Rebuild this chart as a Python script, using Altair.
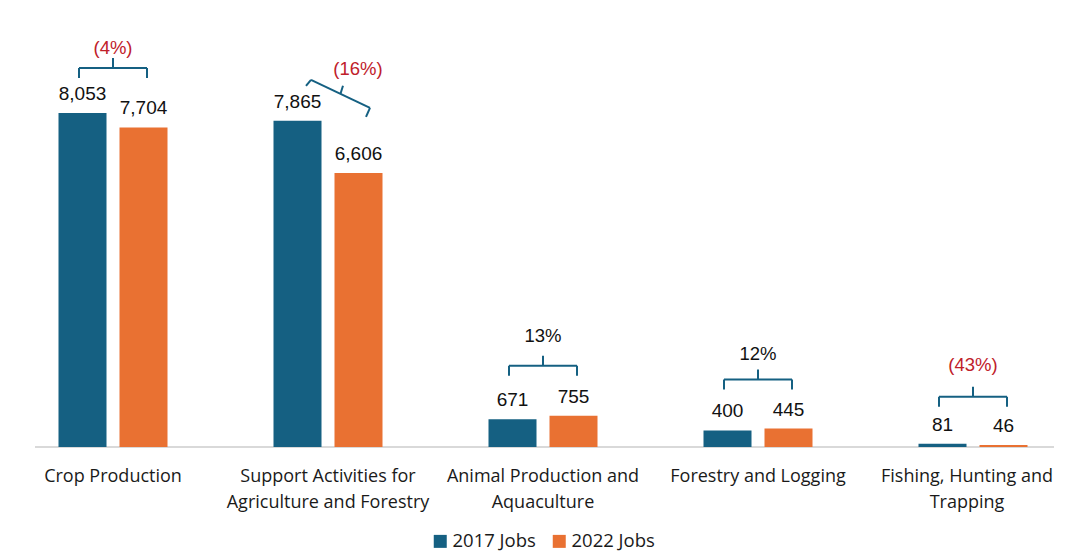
import altair as alt
import pandas as pd

# ---- data ----
categories = ["Crop Production", "Support Activities for Agriculture and Forestry",
              "Animal Production and Aquaculture", "Forestry and Logging",
              "Fishing, Hunting and Trapping"]
cat_labels = ["Crop Production", "Support Activities for\nAgriculture and Forestry",
              "Animal Production and\nAquaculture", "Forestry and Logging",
              "Fishing, Hunting and\nTrapping"]
jobs_2017 = [8053, 7865, 671, 400, 81]
jobs_2022 = [7704, 6606, 755, 445, 46]
pct_labels = ["(4%)", "(16%)", "13%", "12%", "(43%)"]
series = ["2017 Jobs", "2022 Jobs"]

# ---- layout / style ----
BLUE = "#156082"
ORANGE = "#E97132"
RED = "#C0202A"
W, H = 1046, 439
SX = 215.0                  # px per category
X0 = -105.0 / SX
X1 = X0 + W / SX
YMAX = 10585.0
SY = H / YMAX               # px per job
OFF = 30.5 / SX
HW = 24.0 / SX
# pixel offsets of the annotations
LABEL_DY = [-65, -52, -80, -75, -79]
BRACKET_DY = [-35, 0, -40, -39, -37]
CAT_DX = [0, 0, 0, 0, -6]

def px_x(p):
    return p / SX

def px_y(p):
    return p / SY

# bars
bar_rows = []
for i, cat in enumerate(categories):
    for s, vals, o in [(series[0], jobs_2017, -OFF), (series[1], jobs_2022, OFF)]:
        bar_rows.append({"idx": i, "series": s, "value": vals[i],
                         "xc": i + o, "x": i + o - HW, "x2": i + o + HW})
bars_df = pd.DataFrame(bar_rows)

# brackets (annotation segments built from the values)
seg_rows = []
pct_rows = []
for i in range(len(categories)):
    top = max(jobs_2017[i], jobs_2022[i])
    neg = pct_labels[i].startswith("(")
    if i == 1:
        pts = [((-22, -35), (-17, -41)), ((-17, -41), (42, -13)),
               ((42, -13), (38, -4)), ((12.5, -27), (15, -35))]
        tx = 30
    else:
        b = BRACKET_DY[i]
        pts = [((-34, b), (-34, b - 10)), ((-34, b - 10), (34, b - 10)),
               ((34, b - 10), (34, b)), ((0, b - 10), (0, b - 20))]
        tx = 0
    for (ax, ay), (bx, by) in pts:
        seg_rows.append({"x": i + px_x(ax), "x2": i + px_x(bx),
                         "y": top - px_y(ay), "y2": top - px_y(by)})
    pct_rows.append({"x": i + px_x(tx), "y": top - px_y(LABEL_DY[i]),
                     "label": pct_labels[i], "neg": "neg" if neg else "pos"})
seg_df = pd.DataFrame(seg_rows)
pct_df = pd.DataFrame(pct_rows)

cat_df = pd.DataFrame({"x": [i + px_x(CAT_DX[i]) for i in range(len(categories))],
                       "label": cat_labels, "y": [0] * len(categories)})
base_df = pd.DataFrame({"x": [X0 + px_x(27)], "x2": [X1], "y": [0]})

xs = alt.Scale(domain=[X0, X1], nice=False, zero=False)
ys = alt.Scale(domain=[0, YMAX], nice=False)

baseline = alt.Chart(base_df).mark_rule(color="#D9D9D9", strokeWidth=2).encode(
    x=alt.X("x:Q", scale=xs, axis=None), x2="x2:Q",
    y=alt.Y("y:Q", scale=ys, axis=None))

bars = alt.Chart(bars_df).mark_bar().encode(
    x=alt.X("x:Q", scale=xs, axis=None), x2="x2:Q",
    y=alt.Y("value:Q", scale=ys, axis=None), y2=alt.datum(0),
    color=alt.Color("series:N",
                    scale=alt.Scale(domain=series, range=[BLUE, ORANGE]),
                    legend=alt.Legend(title=None, orient="none", direction="horizontal",
                                      legendX=423, legendY=524, symbolType="square",
                                      symbolSize=169, symbolStrokeWidth=0,
                                      labelFontSize=18.5, labelFont="Open Sans",
                                      labelColor="#1a1a1a", columnPadding=14,
                                      labelOffset=3)))

values = alt.Chart(bars_df).mark_text(font="Liberation Sans", fontSize=19, baseline="alphabetic",
                                      dy=-13, color="#111").encode(
    x=alt.X("xc:Q", scale=xs, axis=None),
    y=alt.Y("value:Q", scale=ys, axis=None),
    text=alt.Text("value:Q", format=","))

brackets = alt.Chart(seg_df).mark_rule(color=BLUE, strokeWidth=2).encode(
    x=alt.X("x:Q", scale=xs, axis=None), x2="x2:Q",
    y=alt.Y("y:Q", scale=ys, axis=None), y2="y2:Q")

pcts = alt.Chart(pct_df).mark_text(font="Liberation Sans", fontSize=18.5, baseline="middle").encode(
    x=alt.X("x:Q", scale=xs, axis=None),
    y=alt.Y("y:Q", scale=ys, axis=None),
    text="label:N",
    color=alt.Color("neg:N", scale=alt.Scale(domain=["neg", "pos"], range=[RED, "#111"]), legend=None))

cats = alt.Chart(cat_df).mark_text(font="Open Sans", fontSize=18, baseline="alphabetic", dy=35,
                                   lineBreak="\n", lineHeight=26, color="#1a1a1a").encode(
    x=alt.X("x:Q", scale=xs, axis=None),
    y=alt.Y("y:Q", scale=ys, axis=None),
    text="label:N")

chart = alt.layer(baseline, bars, values, brackets, pcts, cats).resolve_scale(color="independent").properties(
    width=W, height=H,
    autosize=alt.AutoSizeParams(type="none"),
    padding={"left": 0, "top": 0, "right": 3, "bottom": 104},
    background="white",
).configure_view(stroke=None)

chart.save("out.html", embed_options={"renderer": "svg", "actions": False})
